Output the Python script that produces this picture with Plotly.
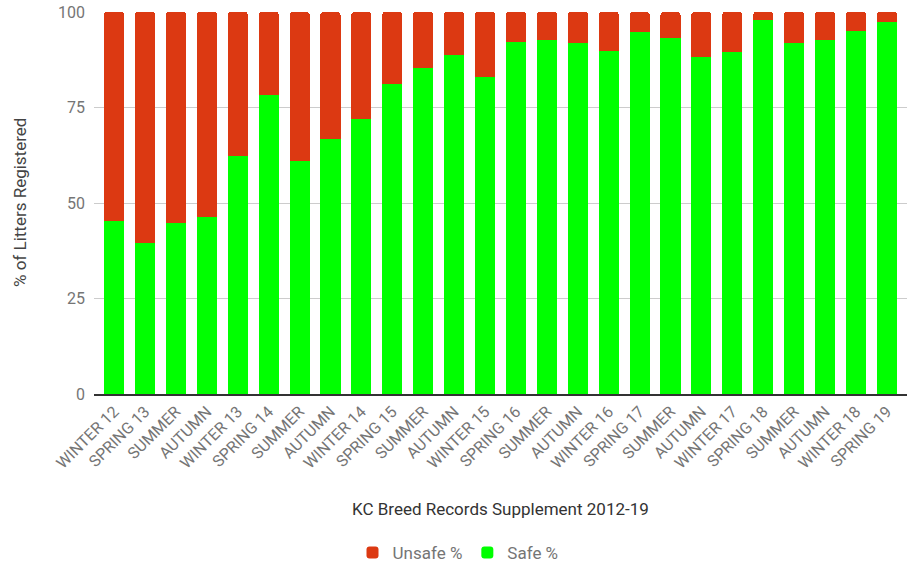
import plotly.graph_objects as go

# Season labels along the x axis (duplicated names, so plotted on numeric positions)
seasons = [
    "WINTER 12", "SPRING 13", "SUMMER", "AUTUMN", "WINTER 13", "SPRING 14",
    "SUMMER", "AUTUMN", "WINTER 14", "SPRING 15", "SUMMER", "AUTUMN",
    "WINTER 15", "SPRING 16", "SUMMER", "AUTUMN", "WINTER 16", "SPRING 17",
    "SUMMER", "AUTUMN", "WINTER 17", "SPRING 18", "SUMMER", "AUTUMN",
    "WINTER 18", "SPRING 19",
]

# Share of litters registered, per season
safe_pct = [
    45.2, 39.5, 44.8, 46.3, 62.3, 78.4, 61.1, 66.8, 72.1, 81.1, 85.3, 88.7, 83.1,
    92.1, 92.8, 91.8, 89.8, 94.8, 93.2, 88.3, 89.4, 97.8, 91.8, 92.8, 95.1, 97.4,
]
unsafe_pct = [
    54.8, 60.5, 55.2, 53.7, 37.7, 21.6, 38.9, 33.2, 27.9, 18.9, 14.7, 11.3, 16.9,
    7.9, 7.2, 8.2, 10.2, 5.2, 6.8, 11.7, 10.6, 2.2, 8.2, 7.2, 4.9, 2.6,
]

y_ticks = [0, 25, 50, 75, 100]

positions = list(range(len(seasons)))

FONT = "Roboto, Arial, sans-serif"
GREY = "#757575"

fig = go.Figure()
fig.add_trace(go.Bar(
    x=positions, y=safe_pct, name="Safe %",
    marker=dict(color="#00ff00", line=dict(width=0)),
    width=0.65,
))
fig.add_trace(go.Bar(
    x=positions, y=unsafe_pct, name="Unsafe %",
    marker=dict(color="#dc3912", line=dict(width=0)),
    width=0.65,
))

fig.update_layout(
    width=908, height=562,
    margin=dict(l=94, r=1, t=12, b=168, autoexpand=False),
    barmode="stack",
    barcornerradius=3,
    paper_bgcolor="white",
    plot_bgcolor="white",
    font=dict(family=FONT, size=16, color=GREY),
    showlegend=True,
    legend=dict(
        orientation="h",
        traceorder="reversed",
        x=(458 - 94) / 813, xanchor="center",
        y=-(553 - 394) / 382, yanchor="middle",
        font=dict(family=FONT, size=17, color=GREY),
    ),
    xaxis=dict(
        range=[-0.65, 25.65],
        tickmode="array",
        tickvals=positions,
        ticktext=seasons,
        tickangle=-45,
        tickfont=dict(family=FONT, size=16, color=GREY),
        showgrid=False,
        zeroline=False,
        showline=True,
        linecolor="#333333",
        linewidth=2,
        ticks="",
        automargin=False,
    ),
    yaxis=dict(
        range=[0, 100],
        tickmode="array",
        tickvals=y_ticks,
        tickfont=dict(family=FONT, size=16, color=GREY),
        showgrid=True,
        gridcolor="#cccccc",
        gridwidth=1,
        zeroline=False,
        showline=False,
        ticks="",
        ticklabelstandoff=8,
        automargin=False,
    ),
    annotations=[
        dict(
            text="% of Litters Registered",
            xref="paper", yref="paper",
            x=-(94 - 20) / 813, y=0.5,
            xanchor="center", yanchor="middle",
            textangle=-90, showarrow=False,
            font=dict(family=FONT, size=17, color="#444444"),
        ),
        dict(
            text="KC Breed Records Supplement 2012-19",
            xref="paper", yref="paper",
            x=(500 - 94) / 813, y=-(509 - 394) / 382,
            xanchor="center", yanchor="middle",
            showarrow=False,
            font=dict(family=FONT, size=17, color="#333333"),
        ),
    ],
)

fig.write_html("out.html")
